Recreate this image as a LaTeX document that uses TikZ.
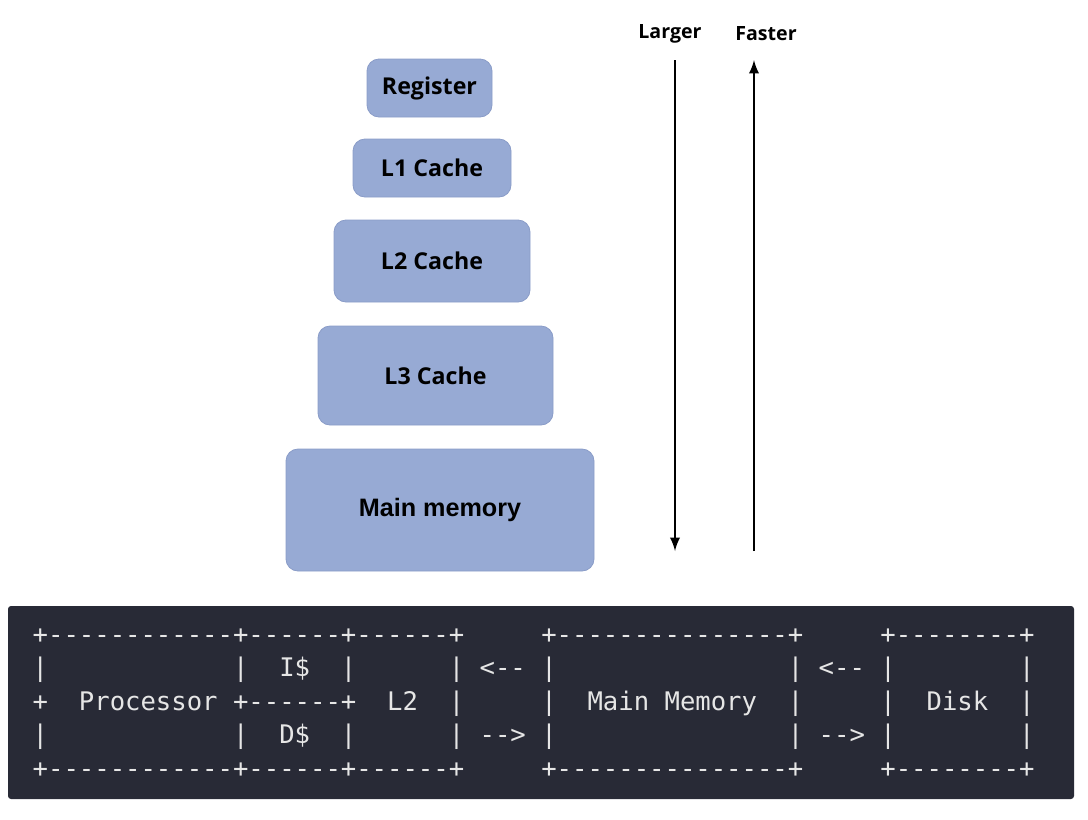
\documentclass[tikz,border=0pt]{standalone}
\usepackage{fontspec}
\setmainfont{Open Sans}
\setmonofont{DejaVu Sans Mono}
\newfontfamily\helvfont{Liberation Sans}
\definecolor{boxblue}{HTML}{97AAD4}
\definecolor{boxline}{HTML}{8A9CC8}
\definecolor{panel}{HTML}{282A36}
\definecolor{asciitext}{HTML}{E6E6E6}

\begin{document}
\begin{tikzpicture}[x=0.5pt, y=-0.5pt]
\tikzset{ >=latex,
  level/.style={draw=boxline, fill=boxblue, rounded corners=6pt, inner sep=0pt,
                font=\fontsize{11.6}{14}\selectfont\bfseries},
  row/.style={anchor=base west, inner sep=0pt, text=asciitext,
              font=\ttfamily\fontsize{12.8}{15}\selectfont} }
\useasboundingbox (0,0) rectangle (1088,820);
%\draw [lightgray, dashed](0,0) grid [step=50] (1088,820);

% memory levels
\node [level, minimum width=62.5pt, minimum height=29pt]   (REG) at (429.5,88)  {Register};
\node [level, minimum width=79pt,   minimum height=29pt]   (L1)  at (432,168)   {L1 Cache};
\node [level, minimum width=98pt,   minimum height=41pt]   (L2)  at (432,261)   {L2 Cache};
\node [level, minimum width=117.5pt,minimum height=49.5pt] (L3)  at (435.5,375.5) {L3 Cache};
\node [level, minimum width=154pt,  minimum height=61pt, font=\helvfont\fontsize{12.6}{14}\selectfont\bfseries]
      (MEM) at (440,510) {Main memory};

% arrows
\node [font=\fontsize{9.8}{12}\selectfont\bfseries] (LARGER) at (670,34) {Larger};
\node [font=\fontsize{9.8}{12}\selectfont\bfseries] (FASTER) at (766,34) {Faster};

\coordinate (LT) at (675,60);
\coordinate (LB) at (675,551);
\coordinate (FB) at (754,551);
\coordinate (FT) at (754,60);

\draw [->, line width=1.3pt] (LT) -- (LB);
\draw [->, line width=1.3pt] (FB) -- (FT);

% terminal block
\fill [panel, rounded corners=1.5pt] (8,606) rectangle (1074,799);

\node [row] (R1) at (32.3,643)   {+------------+------+------+~~~~~+---------------+~~~~~+--------+};
\node [row] (R2) at (32.3,676.5) {|~~~~~~~~~~~~|~~I\$~~|~~~~~~|~<--~|~~~~~~~~~~~~~~~|~<--~|~~~~~~~~|};
\node [row] (R3) at (32.3,710)   {+~~Processor~+------+~~L2~~|~~~~~|~~Main~Memory~~|~~~~~|~~Disk~~|};
\node [row] (R4) at (32.3,743.5) {|~~~~~~~~~~~~|~~D\$~~|~~~~~~|~-->~|~~~~~~~~~~~~~~~|~-->~|~~~~~~~~|};
\node [row] (R5) at (32.3,777)   {+------------+------+------+~~~~~+---------------+~~~~~+--------+};

\end{tikzpicture}
\end{document}
